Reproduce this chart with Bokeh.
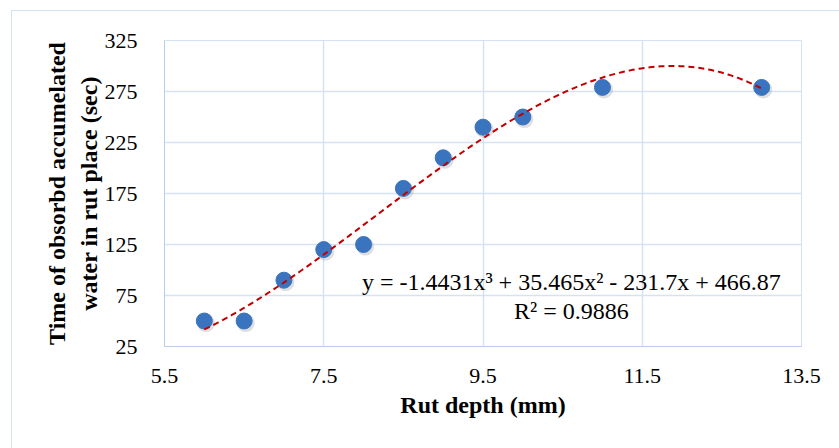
import numpy as np
from bokeh.plotting import figure
from bokeh.models import Label, FixedTicker, ColumnDataSource
from bokeh.transform import dodge
from bokeh.embed import file_html
from bokeh.resources import INLINE

# Data
rut_depth = [6.0, 6.5, 7.0, 7.5, 8.0, 8.5, 9.0, 9.5, 10.0, 11.0, 13.0]
time_sec = [50, 50, 90, 120, 125, 180, 210, 240, 250, 279, 279]
# Cubic trendline coefficients as printed on the chart (x^3, x^2, x, 1)
trend_coeffs = [-1.4431, 35.465, -231.7, 466.87]
x_ticks = [5.5, 7.5, 9.5, 11.5, 13.5]
y_ticks = [25, 75, 125, 175, 225, 275, 325]
eq_text = "y = -1.4431x\u00b3 + 35.465x\u00b2 - 231.7x + 466.87"
r2_text = "R\u00b2 = 0.9886"

FONT = "Liberation Serif"
GRID = "#d5e2f4"

p = figure(width=828, height=438, output_backend="svg", toolbar_location=None,
           x_range=(5.5, 13.5), y_range=(25, 325),
           min_border_left=152, min_border_top=29, min_border_right=39, min_border_bottom=103)
p.margin = (10, 0, 0, 11)
p.styles = {"border-top": "1px solid " + GRID, "border-left": "1px solid " + GRID}

p.outline_line_color = GRID
p.outline_line_width = 1
p.background_fill_color = "white"
p.border_fill_color = "white"

p.xaxis.ticker = FixedTicker(ticks=x_ticks)
p.yaxis.ticker = FixedTicker(ticks=y_ticks)
p.xaxis.major_label_overrides = {t: str(t) for t in x_ticks}
for ax in (p.xaxis, p.yaxis):
    ax.major_tick_line_color = None
    ax.minor_tick_line_color = None
    ax.axis_line_color = "#b8cde9"
    ax.axis_line_width = 1
    ax.major_label_text_font = FONT
    ax.major_label_text_font_size = "22px"
    ax.major_label_text_color = "#000000"
    ax.axis_label_text_font = FONT
    ax.axis_label_text_font_style = "bold"
    ax.axis_label_text_color = "#000000"
    ax.axis_label_text_font_size = "24px"

p.xaxis.major_label_standoff = 16
p.yaxis.major_label_standoff = 21
p.xaxis.axis_label = "Rut depth (mm)"
p.xaxis.axis_label_standoff = 6
p.yaxis.axis_label = "Time of obsorbd accumelated\nwater in rut place (sec)"
p.yaxis.axis_label_standoff = 0

p.xgrid.grid_line_color = GRID
p.ygrid.grid_line_color = GRID
p.xgrid.grid_line_width = 1.5
p.ygrid.grid_line_width = 1.5

# trendline evaluated from the printed coefficients
xt = np.linspace(min(rut_depth), max(rut_depth), 200)
yt = np.polyval(trend_coeffs, xt)

src = ColumnDataSource(dict(x=rut_depth, y=time_sec))
p.scatter(x=dodge("x", 0.02, range=p.x_range), y=dodge("y", -2.0, range=p.y_range), source=src,
          size=18, fill_color="#7f7f7f", fill_alpha=0.25, line_color=None)
p.scatter(x="x", y="y", source=src, size=16, fill_color="#3a74bf", line_color="#3a74bf", line_width=1)
p.line(xt, yt, line_color="#c00000", line_width=2, line_dash="6 4")

p.add_layout(Label(x=10.61, y=88, text=eq_text, text_align="center", text_baseline="middle",
                   text_font=FONT, text_font_size="24px", text_color="#000000"))
p.add_layout(Label(x=10.61, y=60, text=r2_text, text_align="center", text_baseline="middle",
                   text_font=FONT, text_font_size="24px", text_color="#000000"))

open("out.html", "w").write(file_html(p, INLINE))
